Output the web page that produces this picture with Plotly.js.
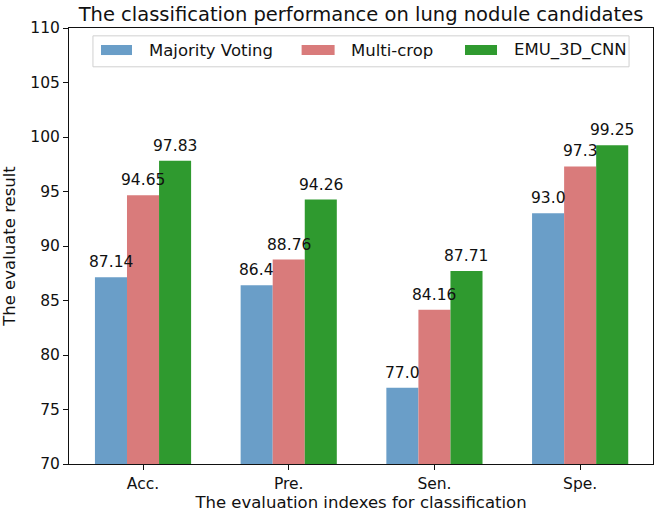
<!DOCTYPE html>
<html><head><meta charset="utf-8">
<script src="https://cdn.plot.ly/plotly-3.0.1.min.js"></script>
<style>body{margin:0;padding:0;background:#fff}#chart{width:657px;height:514px}</style>
</head><body><div id="chart"></div>
<script>
const categories = ["Acc.", "Pre.", "Sen.", "Spe."];
const seriesNames = ["Majority Voting", "Multi-crop", "EMU_3D_CNN"];
const majorityVoting = [87.14, 86.4, 77.0, 93.0];
const multiCrop = [94.65, 88.76, 84.16, 97.3];
const emu3dCnn = [97.83, 94.26, 87.71, 99.25];
const colors = ["#6a9ec8", "#d97b7b", "#2f9a2f"];
const yTicks = [70, 75, 80, 85, 90, 95, 100, 105, 110];

const values = [majorityVoting, multiCrop, emu3dCnn];
const fmt = d => (d % 1 === 0 ? d.toFixed(1) : String(d));

const traces = values.map((v, i) => ({
  type: "bar",
  name: seriesNames[i],
  x: categories,
  y: v.map(d => d - 70),
  base: 70,
  marker: {color: colors[i], line: {width: 0}},
  showlegend: false,
  hoverinfo: "skip"
}));

// bar value labels
const barPx = 32;
const annotations = [];
values.forEach((v, i) => {
  v.forEach((d, j) => {
    annotations.push({
      x: categories[j], y: d, xref: "x", yref: "y",
      text: fmt(d), showarrow: false,
      xanchor: "center", yanchor: "bottom",
      xshift: (i - 1) * barPx, yshift: 4,
      font: {family: "DejaVu Sans", size: 15.5, color: "#111"}
    });
  });
});

// legend drawn as a framed row
const legPatchX = [[0.0548, 0.1079], [0.3983, 0.4548], [0.6781, 0.7329]];
const legTextX = [0.1336, 0.4795, 0.7586];
const shapes = [{
  type: "rect", xref: "paper", yref: "paper",
  x0: 0.041, x1: 0.959, y0: 0.911, y1: 0.982,
  line: {color: "#d0d0d0", width: 1}, fillcolor: "rgba(255,255,255,0.8)", layer: "above"
}];
seriesNames.forEach((n, i) => {
  shapes.push({
    type: "rect", xref: "paper", yref: "paper",
    x0: legPatchX[i][0], x1: legPatchX[i][1], y0: 0.938, y1: 0.961,
    line: {width: 0}, fillcolor: colors[i], layer: "above"
  });
  annotations.push({
    x: legTextX[i], y: 0.9495, xref: "paper", yref: "paper",
    text: n, showarrow: false, xanchor: "left", yanchor: "middle",
    font: {family: "DejaVu Sans", size: 16.5, color: "#111"}
  });
});

const layout = {
  width: 657, height: 514,
  margin: {l: 69, r: 4, t: 28, b: 50},
  paper_bgcolor: "#fff", plot_bgcolor: "#fff",
  font: {family: "DejaVu Sans", size: 15.5, color: "#111"},
  title: {text: "The classification performance on lung nodule candidates",
    font: {size: 19.5, color: "#111"}, xref: "paper", x: 0.5, xanchor: "center",
    yref: "container", y: 0.973, yanchor: "middle"},
  barmode: "group", bargap: 0.34, bargroupgap: 0,
  showlegend: false,
  shapes: shapes,
  annotations: annotations,
  xaxis: {
    type: "category", range: [-0.508, 3.5], showgrid: false, zeroline: false,
    showline: true, linecolor: "#111", linewidth: 1, mirror: true,
    ticks: "outside", ticklen: 5, tickcolor: "#111",
    tickfont: {size: 15.5},
    title: {text: "The evaluation indexes for classification", font: {size: 16.5}, standoff: 2}
  },
  yaxis: {
    range: [70, 110], tickvals: yTicks, showgrid: false, zeroline: false,
    showline: true, linecolor: "#111", linewidth: 1, mirror: true,
    ticks: "outside", ticklen: 5, tickcolor: "#111",
    tickfont: {size: 15.5},
    title: {text: "The evaluate result", font: {size: 16.5}, standoff: 12}
  }
};
Plotly.newPlot("chart", traces, layout, {staticPlot: true});
</script></body></html>
